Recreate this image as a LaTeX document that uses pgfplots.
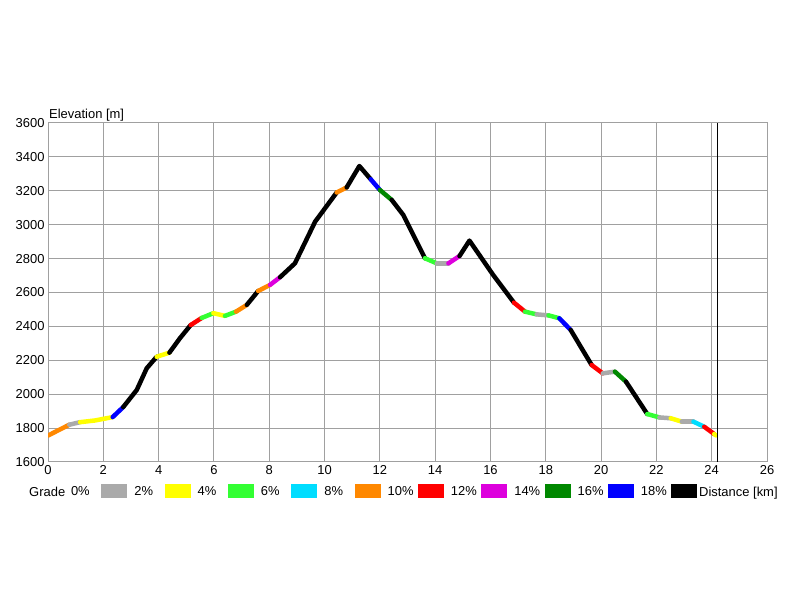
\documentclass[border=0pt]{standalone}
\usepackage{fontspec}
\setmainfont{Liberation Sans}
\usepackage{pgfplots}
\pgfplotsset{compat=1.18}

\definecolor{gGray}{HTML}{AAAAAA}
\definecolor{gYellow}{HTML}{FFFF00}
\definecolor{gGreen}{HTML}{33FF33}
\definecolor{gCyan}{HTML}{00DDFF}
\definecolor{gOrange}{HTML}{FF8800}
\definecolor{gRed}{HTML}{FF0000}
\definecolor{gMagenta}{HTML}{DD00DD}
\definecolor{gDkGreen}{HTML}{008800}
\definecolor{gBlue}{HTML}{0000FF}
\definecolor{gridGray}{HTML}{A0A0A0}

\pgfplotsset{
  seg/.style={line width=4.5bp, line join=round, line cap=round, forget plot},
}
\newcommand{\gradelabel}[1]{\makebox[30.33bp][l]{#1}}

\begin{document}
\begin{tikzpicture}
  \path[use as bounding box] (0,0) rectangle (800bp,600bp);
  \begin{axis}[
    at={(48bp,138bp)}, anchor=south west,
    width=719bp, height=339bp, scale only axis,
    xmin=0, xmax=26, ymin=1600, ymax=3600,
    xtick={0,2,...,26},
    ytick={1600,1800,...,3600},
    grid=major,
    major grid style={draw=gridGray, line width=1bp},
    axis line style={draw=gridGray, line width=1bp},
    major tick length=0pt,
    clip mode=individual,
    tick label style={font=\fontsize{13}{15}\selectfont},
    /pgf/number format/assume math mode=true,
    /pgf/number format/set thousands separator={},
    xlabel={Distance [km]},
    xlabel style={at={(axis description cs:0.9054,-0.1003)}, anchor=base west, inner sep=0pt, font=\fontsize{13}{15}\selectfont},
    ylabel={Elevation [m]},
    ylabel style={at={(axis description cs:0.0014,1.0147)}, rotate=-90, anchor=base west, inner sep=0pt, font=\fontsize{13}{15}\selectfont},
    legend columns=-1,
    legend plot pos=right,
    legend style={
      at={(axis description cs:0.032,-0.0649)}, anchor=north west,
      draw=none, fill=none, inner sep=0pt, outer sep=0pt,
      font=\fontsize{13}{15}\selectfont,
      nodes={inner sep=0pt},
      /tikz/every odd column/.append style={column sep=0bp},
      /tikz/every even column/.append style={column sep=7bp},
    },
    legend image code/.code={\fill[#1, draw=none] (0bp,-6bp) rectangle (26bp,8bp);},
  ]
    % profile, one piece per grade class
    \addplot[seg, gOrange]  coordinates {(0,1756) (0.77,1820)};
    \addplot[seg, gGray]    coordinates {(0.77,1820) (1.16,1835)};
    \addplot[seg, gYellow]  coordinates {(1.16,1835) (1.7,1845) (2.34,1865)};
    \addplot[seg, gBlue]    coordinates {(2.34,1865) (2.72,1924)};
    \addplot[seg, black]    coordinates {(2.72,1924) (3.21,2025) (3.57,2153) (3.93,2221)};
    \addplot[seg, gYellow]  coordinates {(3.93,2221) (4.39,2245)};
    \addplot[seg, black]    coordinates {(4.39,2245) (4.77,2330) (5.16,2408)};
    \addplot[seg, gRed]     coordinates {(5.16,2408) (5.56,2450)};
    \addplot[seg, gGreen]   coordinates {(5.56,2450) (5.98,2478)};
    \addplot[seg, gYellow]  coordinates {(5.98,2478) (6.4,2462)};
    \addplot[seg, gGreen]   coordinates {(6.4,2462) (6.8,2487)};
    \addplot[seg, gOrange]  coordinates {(6.8,2487) (7.19,2527)};
    \addplot[seg, black]    coordinates {(7.19,2527) (7.6,2609)};
    \addplot[seg, gOrange]  coordinates {(7.6,2609) (8.03,2645)};
    \addplot[seg, gMagenta] coordinates {(8.03,2645) (8.39,2690)};
    \addplot[seg, black]    coordinates {(8.39,2690) (8.93,2772) (9.66,3018) (10.44,3190)};
    \addplot[seg, gOrange]  coordinates {(10.44,3190) (10.8,3220)};
    \addplot[seg, black]    coordinates {(10.8,3220) (11.26,3346) (11.67,3268)};
    \addplot[seg, gBlue]    coordinates {(11.67,3268) (12.0,3205)};
    \addplot[seg, gDkGreen] coordinates {(12.0,3205) (12.43,3146)};
    \addplot[seg, black]    coordinates {(12.43,3146) (12.85,3057) (13.15,2959) (13.63,2802)};
    \addplot[seg, gGreen]   coordinates {(13.63,2802) (14.06,2772)};
    \addplot[seg, gGray]    coordinates {(14.06,2772) (14.48,2772)};
    \addplot[seg, gMagenta] coordinates {(14.48,2772) (14.88,2815)};
    \addplot[seg, black]    coordinates {(14.88,2815) (15.24,2906) (16.1,2703) (16.85,2540)};
    \addplot[seg, gRed]     coordinates {(16.85,2540) (17.25,2487)};
    \addplot[seg, gGreen]   coordinates {(17.25,2487) (17.67,2471)};
    \addplot[seg, gGray]    coordinates {(17.67,2471) (18.1,2465)};
    \addplot[seg, gGreen]   coordinates {(18.1,2465) (18.49,2448)};
    \addplot[seg, gBlue]    coordinates {(18.49,2448) (18.9,2379)};
    \addplot[seg, black]    coordinates {(18.9,2379) (19.66,2172)};
    \addplot[seg, gRed]     coordinates {(19.66,2172) (20.06,2123)};
    \addplot[seg, gGray]    coordinates {(20.06,2123) (20.5,2133)};
    \addplot[seg, gDkGreen] coordinates {(20.5,2133) (20.9,2074)};
    \addplot[seg, black]    coordinates {(20.9,2074) (21.67,1883)};
    \addplot[seg, gGreen]   coordinates {(21.67,1883) (22.11,1863)};
    \addplot[seg, gGray]    coordinates {(22.11,1863) (22.52,1858)};
    \addplot[seg, gYellow]  coordinates {(22.52,1858) (22.92,1838)};
    \addplot[seg, gGray]    coordinates {(22.92,1838) (23.34,1838)};
    \addplot[seg, gCyan]    coordinates {(23.34,1838) (23.73,1808)};
    \addplot[seg, gRed]     coordinates {(23.73,1808) (24.09,1765)};
    \addplot[seg, gYellow]  coordinates {(24.09,1765) (24.15,1757)};
    % end of route
    \addplot[black, line width=1.3bp, forget plot] coordinates {(24.2,1600) (24.2,3600)};

    % grade legend: label of lower bound, then its swatch
    \addlegendimage{fill=gGray}    \addlegendentry{\gradelabel{0\%}}
    \addlegendimage{fill=gYellow}  \addlegendentry{\gradelabel{2\%}}
    \addlegendimage{fill=gGreen}   \addlegendentry{\gradelabel{4\%}}
    \addlegendimage{fill=gCyan}    \addlegendentry{\gradelabel{6\%}}
    \addlegendimage{fill=gOrange}  \addlegendentry{\gradelabel{8\%}}
    \addlegendimage{fill=gRed}     \addlegendentry{\gradelabel{10\%}}
    \addlegendimage{fill=gMagenta} \addlegendentry{\gradelabel{12\%}}
    \addlegendimage{fill=gDkGreen} \addlegendentry{\gradelabel{14\%}}
    \addlegendimage{fill=gBlue}    \addlegendentry{\gradelabel{16\%}}
    \addlegendimage{fill=black}    \addlegendentry{\gradelabel{18\%}}

    \node[anchor=base west, inner sep=0pt, font=\fontsize{13}{15}\selectfont]
      at (axis description cs:-0.0264,-0.1003) {Grade};
  \end{axis}
\end{tikzpicture}
\end{document}
